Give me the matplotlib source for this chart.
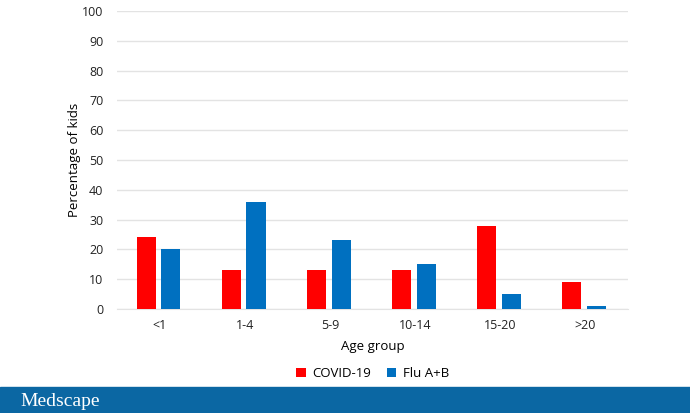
import numpy as np
import matplotlib.pyplot as plt
from matplotlib.patches import Rectangle

plt.rcParams['font.family'] = ['Open Sans', 'DejaVu Sans']

groups = ['<1', '1-4', '5-9', '10-14', '15-20', '>20']
covid = [24, 13, 13, 13, 28, 9]
flu = [20, 36, 23, 15, 5, 1]

fig = plt.figure(figsize=(6.9, 4.13), dpi=100)
ax = fig.add_axes([0.170, 0.252, 0.740, 0.721])

x = np.arange(len(groups))
w = 0.225
ax.bar(x - 0.16, covid, w, color='#ff0000', label='COVID-19', zorder=3)
ax.bar(x + 0.13, flu, w, color='#0070c0', label='Flu A+B', zorder=3)

ax.set_xlim(-0.5, 5.5)
ax.set_ylim(0, 100)
ax.set_yticks(range(0, 101, 10))
ax.set_xticks(x)
ax.set_xticklabels(groups)
ax.tick_params(axis='y', length=0, labelsize=9, colors='#222222', pad=10)
ax.tick_params(axis='x', length=0, labelsize=9, colors='#222222', pad=7)
ax.grid(axis='y', color='#e3e3e3', linewidth=1, zorder=0)
for s in ['top', 'right', 'left']:
    ax.spines[s].set_visible(False)
ax.spines['bottom'].set_color('#e3e3e3')
ax.set_xlabel('Age group', fontsize=9.5, labelpad=6)
ax.set_ylabel('Percentage of kids', fontsize=9.5, labelpad=1)

ax.legend(loc='upper center', bbox_to_anchor=(0.5, -0.155), ncol=2, frameon=False,
          fontsize=9.5, handlelength=0.7, handleheight=0.7, columnspacing=1.2,
          handletextpad=0.5)

fig.patches.append(Rectangle((0, 0), 1, 26 / 413, transform=fig.transFigure,
                             color='#0b67a3', zorder=0))
fig.text(20 / 690, 12 / 413, 'Medscape', color='white', fontsize=14,
         family=['Liberation Serif', 'DejaVu Serif'], va='center', ha='left')

fig.savefig('out.png', dpi=100)
